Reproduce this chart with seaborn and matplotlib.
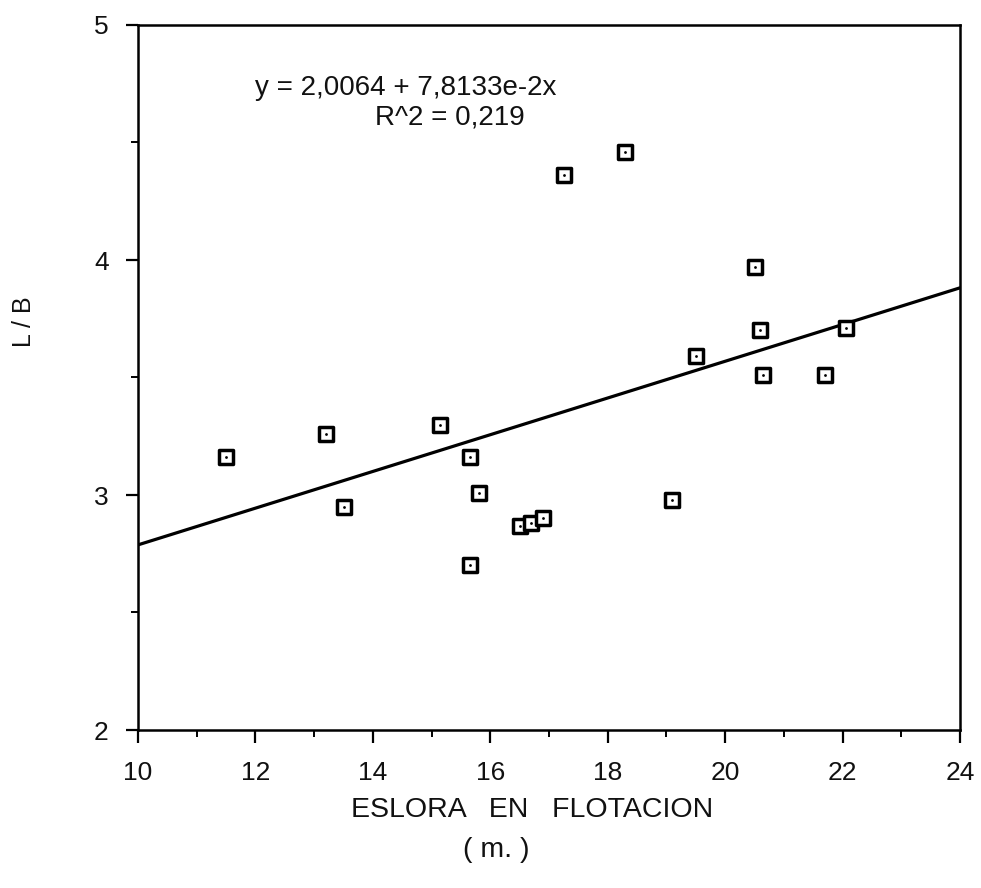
import numpy as np
import pandas as pd
import matplotlib
matplotlib.use("Agg")
import matplotlib.pyplot as plt
import seaborn as sns
from matplotlib.ticker import MultipleLocator

# ---- data ----
eslora = [11.5, 13.2, 13.5, 15.15, 15.65, 15.8, 15.65, 16.5, 16.7, 16.9,
          17.25, 18.3, 19.1, 19.5, 20.5, 20.6, 20.65, 21.7, 22.05]
l_b = [3.16, 3.26, 2.95, 3.30, 3.16, 3.01, 2.70, 2.87, 2.88, 2.90,
       4.36, 4.46, 2.98, 3.59, 3.97, 3.70, 3.51, 3.51, 3.71]
fit_intercept = 2.0064
fit_slope = 7.8133e-2
r_squared = 0.219
x_ticks = [10, 12, 14, 16, 18, 20, 22, 24]
y_ticks = [2, 3, 4, 5]

sns.set_theme(style="white")
plt.rcParams['font.family'] = ['Liberation Sans', 'DejaVu Sans']

W, H = 981, 888
fig = plt.figure(figsize=(W / 100, H / 100), dpi=100)
ax = fig.add_axes([138 / W, 1 - 730 / H, (960 - 138) / W, (730 - 25) / H])

df = pd.DataFrame({"x": eslora, "y": l_b})

# regression line over the full x range
x_line = np.array([x_ticks[0], x_ticks[-1]], dtype=float)
line_df = pd.DataFrame({"x": x_line, "y": fit_intercept + fit_slope * x_line})
sns.lineplot(data=line_df, x="x", y="y", ax=ax, color="black", linewidth=2.3, zorder=2)

sns.scatterplot(data=df, x="x", y="y", ax=ax, marker="s", s=100,
                facecolor="white", edgecolor="black", linewidth=2.5, zorder=3)
sns.scatterplot(data=df, x="x", y="y", ax=ax, marker="o", s=4,
                color="black", linewidth=0, zorder=4)

ax.set_xlim(x_ticks[0], x_ticks[-1])
ax.set_ylim(y_ticks[0], y_ticks[-1])
ax.set_xticks(x_ticks)
ax.set_yticks(y_ticks)
ax.xaxis.set_minor_locator(MultipleLocator(1))
ax.yaxis.set_minor_locator(MultipleLocator(0.5))
ax.tick_params(axis="both", which="major", direction="out", length=9, width=1.6,
               color="black", labelsize=19, labelcolor="#111111", bottom=True, left=True)
ax.tick_params(axis="x", which="major", pad=13)
ax.tick_params(axis="y", which="major", pad=12)
ax.tick_params(axis="both", which="minor", direction="out", length=5, width=1.4,
               color="black", bottom=True, left=True)

for sp in ax.spines.values():
    sp.set_color("black")
    sp.set_linewidth(1.8)
    sp.set_visible(True)

ax.set_xlabel("")
ax.set_ylabel("")

txt = dict(color="#111111", va="center")
fig.text(532 / W, 1 - 810 / H, "ESLORA   EN   FLOTACION", fontsize=20.5, ha="center", **txt)
fig.text(496 / W, 1 - 850 / H, "( m. )", fontsize=20.5, ha="center", **txt)
fig.text(24 / W, 1 - 322 / H, "L / B", fontsize=18, ha="center", rotation=90, **txt)

fig.text(255 / W, 1 - 88 / H, "y = 2,0064 + 7,8133e-2x", fontsize=20, ha="left", **txt)
fig.text(375 / W, 1 - 117 / H, f"R^2 = {r_squared:.3f}".replace(".", ","),
         fontsize=20, ha="left", **txt)

fig.savefig("out.png", dpi=100, facecolor="white")
